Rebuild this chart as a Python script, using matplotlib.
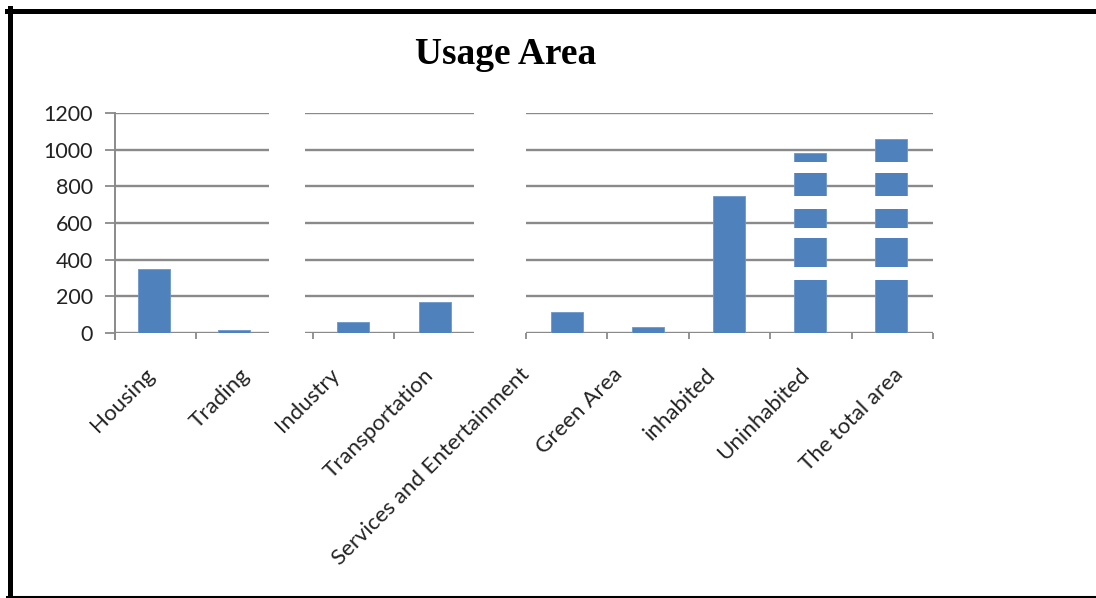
import matplotlib
matplotlib.use("Agg")
import matplotlib.pyplot as plt
import matplotlib.transforms as mtransforms
from matplotlib.lines import Line2D

# Land use values (area units)
categories = ["Housing", "Trading", "Industry", "Transportation",
              "Services and Entertainment", "Green Area", "inhabited",
              "Uninhabited", "The total area"]
areas = [348, 15, 57, 168, 115, 30, 750, 985, 1060]

# layout of the pasted-together chart, in category-width units
bar_x = [0.48, 1.46, 2.92, 3.93, 5.55, 6.55, 7.54, 8.54, 9.53]
label_x = [0.53, 1.70, 2.81, 3.96, 5.14, 6.28, 7.43, 8.58, 9.73]
segments = [(0.0, 1.89), (2.33, 4.41), (5.05, 10.05)]
tick_x = [1.0, 2.43, 3.43, 5.05, 6.05, 7.05, 8.05, 9.05, 10.05]
# white scan stripes across the two tallest columns
stripe_bars = [7, 8]
stripes = [(287, 362), (517, 570), (676, 747), (871, 935)]

yticks = [0, 200, 400, 600, 800, 1000, 1200]
bar_color = "#4F81BD"
grid_color = "#8A8A8A"

W, H = 1096, 598
fig = plt.figure(figsize=(W / 100, H / 100), dpi=100)
ax = fig.add_axes([115 / W, 265.3 / H, 835 / W, 219.4 / H])
ax.set_xlim(0, 835 / 81.4)
ax.set_ylim(0, 1200)

# broken gridlines and category axis
for x0, x1 in segments:
    ax.hlines(yticks, x0, x1, color=grid_color, lw=1.7, zorder=1)
ax.vlines(tick_x, -32, 0, color=grid_color, lw=1.3, clip_on=False)

ax.bar(bar_x, areas, width=0.395, color=bar_color, edgecolor="#6C97CB",
       linewidth=0.6, zorder=3)
for i in stripe_bars:
    for lo, hi in stripes:
        ax.bar(bar_x[i], hi - lo, bottom=lo, width=0.46, color="white",
               linewidth=0, zorder=4)

for s in ["top", "right", "bottom"]:
    ax.spines[s].set_visible(False)
ax.spines["left"].set_color(grid_color)
ax.spines["left"].set_linewidth(1.4)
ax.spines["left"].set_bounds(-32, 1200)
ax.set_xticks([])
ax.set_yticks(yticks)
ax.tick_params(axis="y", length=7, width=1.3, color=grid_color, pad=9,
               labelsize=15.5, labelcolor="#222222")
for t in ax.get_yticklabels():
    t.set_fontfamily("Lato")

trans = mtransforms.blended_transform_factory(ax.transData, ax.transAxes)
for x, name in zip(label_x, categories):
    ax.text(x, -0.145, name, rotation=45, ha="right", va="top",
            transform=trans, fontsize=16, family="Lato", color="#222222",
            clip_on=False)

fig.text(506 / W, 1 - 55 / H, "Usage Area", ha="center", va="center",
         family="Liberation Serif", fontweight="bold", fontsize=27)

# black frame around the figure (open on the right)
fig.add_artist(Line2D([7 / W, 1], [1 - 10.5 / H] * 2, color="black",
                      lw=3.6, transform=fig.transFigure))
fig.add_artist(Line2D([10 / W] * 2, [0, 1 - 8 / H], color="black",
                      lw=3.6, transform=fig.transFigure))
fig.add_artist(Line2D([7 / W, 1], [1.5 / H] * 2, color="black",
                      lw=2.2, transform=fig.transFigure))

fig.savefig("out.png", dpi=100)
